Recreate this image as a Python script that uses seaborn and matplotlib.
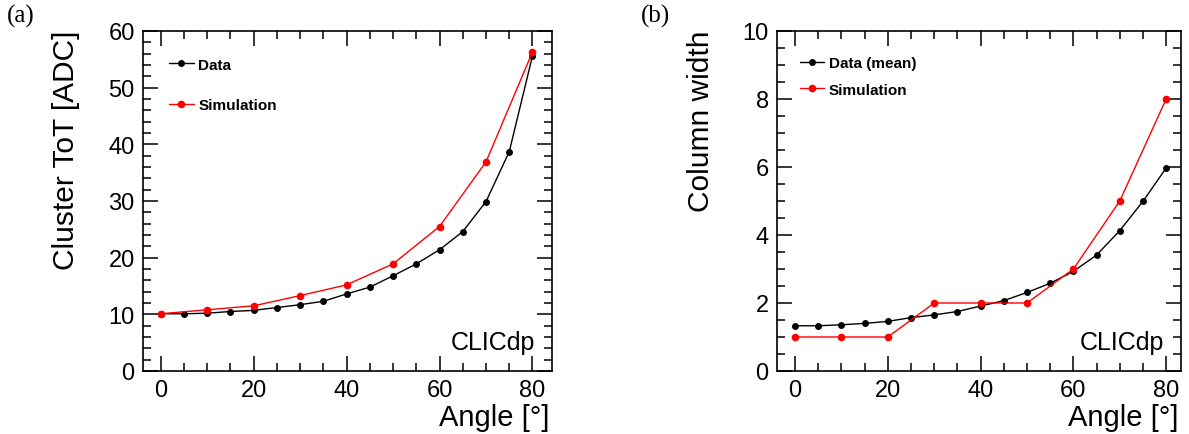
import numpy as np
import pandas as pd
import matplotlib
matplotlib.use("Agg")
import matplotlib.pyplot as plt
from matplotlib.ticker import MultipleLocator
import seaborn as sns

# ---- data ----
angles_data = [0, 5, 10, 15, 20, 25, 30, 35, 40, 45, 50, 55, 60, 65, 70, 75, 80]
angles_sim = [0, 10, 20, 30, 40, 50, 60, 70, 80]

tot_data = [10.1, 10.1, 10.2, 10.5, 10.7, 11.2, 11.7, 12.3, 13.6, 14.8, 16.8, 18.9,
            21.4, 24.6, 29.9, 38.7, 55.6]
tot_sim = [10.1, 10.8, 11.5, 13.3, 15.2, 18.9, 25.5, 36.9, 56.3]

width_data = [1.33, 1.33, 1.36, 1.40, 1.46, 1.57, 1.65, 1.75, 1.91, 2.07, 2.31, 2.58,
              2.93, 3.41, 4.13, 4.99, 5.97]
width_sim = [1, 1, 1, 2, 2, 2, 3, 5, 8]

sns.set_style("ticks")
plt.rcParams["font.family"] = ["Liberation Sans", "DejaVu Sans"]
plt.rcParams["text.color"] = "black"
plt.rcParams["axes.labelcolor"] = "black"
plt.rcParams["xtick.color"] = "black"
plt.rcParams["ytick.color"] = "black"

W, H = 11.89, 4.35
fig = plt.figure(figsize=(W, H), dpi=100)

ax_a = fig.add_axes([143/1189, 1-372/435, (552-143)/1189, 340/435])
ax_b = fig.add_axes([777/1189, 1-372/435, (1181-777)/1189, 340/435])


def draw(ax, xd, yd, xs, ys, lab_d, ylim, ymaj, ymin, xlim, ylabel, ylab_x,
         leg_xy, labelspacing):
    dfd = pd.DataFrame({"x": xd, "y": yd})
    dfs = pd.DataFrame({"x": xs, "y": ys})
    sns.lineplot(data=dfd, x="x", y="y", ax=ax, color="black", marker="o",
                 markersize=5, markeredgewidth=0, linewidth=1.0, label=lab_d)
    sns.lineplot(data=dfs, x="x", y="y", ax=ax, color="#ff0000", marker="o",
                 markersize=5.5, markeredgewidth=0, linewidth=1.0, label="Simulation")
    ax.set_xlim(*xlim)
    ax.set_ylim(*ylim)
    ax.xaxis.set_major_locator(MultipleLocator(20))
    ax.xaxis.set_minor_locator(MultipleLocator(5))
    ax.yaxis.set_major_locator(MultipleLocator(ymaj))
    ax.yaxis.set_minor_locator(MultipleLocator(ymin))
    ax.tick_params(which="both", direction="in", top=True, right=True,
                   width=1.1, colors="black", labelsize=17)
    ax.tick_params(which="major", length=11, pad=6)
    ax.tick_params(which="minor", length=5.5)
    for s in ax.spines.values():
        s.set_linewidth(1.2)
        s.set_color("black")
    ax.set_ylabel(ylabel, fontsize=21.5, loc="top", color="black")
    ax.yaxis.set_label_coords(ylab_x, 1.005)
    ax.set_xlabel("Angle [°]", fontsize=21, loc="right", color="black")
    ax.xaxis.set_label_coords(0.995, -0.095)
    leg = ax.legend(loc="upper left", bbox_to_anchor=leg_xy, frameon=False,
                    borderpad=0, borderaxespad=0, handlelength=1.6,
                    handletextpad=0.3, labelspacing=labelspacing,
                    prop={"weight": "bold", "size": 11})
    for t in leg.get_texts():
        t.set_color("black")
    ax.text(0.958, 0.065, "CLICdp", transform=ax.transAxes, ha="right",
            va="baseline", fontsize=18, color="black")


draw(ax_a, angles_data, tot_data, angles_sim, tot_sim, "Data", (0, 60), 10, 2,
     (-3.8, 84.2), "Cluster ToT [ADC]", -0.155, (0.064, 0.922), 1.75)
draw(ax_b, angles_data, width_data, angles_sim, width_sim, "Data (mean)", (0, 10), 2, 0.5,
     (-3.9, 83.2), "Column width", -0.153, (0.056, 0.925), 0.8)

fig.text(7/1189, 1-5/435, "(a)", family="Liberation Serif", fontsize=18, va="top", ha="left")
fig.text(641/1189, 1-5/435, "(b)", family="Liberation Serif", fontsize=18, va="top", ha="left")

fig.savefig("out.png", dpi=100)
